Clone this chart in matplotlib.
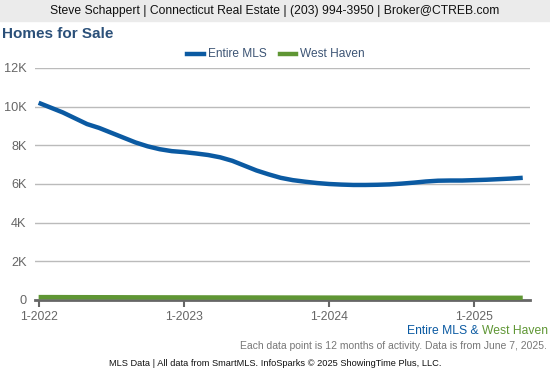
import matplotlib
matplotlib.use("Agg")
import matplotlib.pyplot as plt
import numpy as np

plt.rcParams['font.family'] = ['Liberation Sans', 'DejaVu Sans']

# monthly points, Jan 2022 .. May 2025 (12-month rolling)
entire_mls = [10200, 9950, 9700, 9400, 9100, 8900, 8650, 8400, 8150, 7950,
              7800, 7700, 7650, 7580, 7500, 7380, 7200, 6950, 6700, 6500,
              6320, 6200, 6120, 6050, 6000, 5970, 5950, 5950, 5960, 5980,
              6020, 6070, 6130, 6170, 6180, 6180, 6200, 6220, 6250, 6280, 6320]
west_haven = [150, 150, 148, 146, 145, 143, 142, 140, 138, 137,
              136, 135, 134, 133, 132, 131, 130, 130, 129, 128,
              127, 126, 125, 124, 123, 122, 121, 120, 120, 119,
              118, 118, 117, 117, 116, 116, 115, 115, 114, 114, 113]
tick_pos = [0, 12, 24, 36]
tick_labels = ["1-2022", "1-2023", "1-2024", "1-2025"]
y_ticks = [0, 2000, 4000, 6000, 8000, 10000, 12000]
y_labels = ["0", "2K", "4K", "6K", "8K", "10K", "12K"]

blue = "#0b5aa2"
green = "#5f9634"

fig = plt.figure(figsize=(5.5, 3.75), dpi=100)
ax = fig.add_axes([35 / 550, 1 - 300 / 375, 495 / 550, 232 / 375])

x = np.arange(len(entire_mls))
ax.plot(x, entire_mls, color=blue, lw=3.2, solid_capstyle="butt", zorder=3)
ax.plot(x, west_haven, color=green, lw=3.2, solid_capstyle="butt", zorder=3)

ax.set_xlim(-0.3, 40.6)
ax.set_ylim(0, 12000)
ax.set_yticks(y_ticks)
ax.set_yticklabels(y_labels)
ax.set_xticks(tick_pos)
ax.set_xticklabels(tick_labels)
ax.grid(axis="y", color="#bbbbbb", lw=1)
ax.set_axisbelow(True)
for s in ["top", "right", "left"]:
    ax.spines[s].set_visible(False)
ax.spines["bottom"].set_color("#666666")
ax.spines["bottom"].set_linewidth(2)
ax.tick_params(axis="y", length=0, labelsize=9.2, labelcolor="#666666", pad=6)
ax.tick_params(axis="x", length=5, width=1.5, color="#666666",
               labelsize=8.8, labelcolor="#666666", pad=3)

# header band
fig.patches.append(plt.Rectangle((0, 1 - 21 / 375), 1, 21 / 375,
                                 transform=fig.transFigure, color="#ebebeb", zorder=0))
fig.text(0.5, 1 - 11 / 375,
         "Steve Schappert | Connecticut Real Estate | (203) 994-3950 | Broker@CTREB.com",
         ha="center", va="center", fontsize=8.7, color="#111111")
fig.text(2 / 550, 1 - 34 / 375, "Homes for Sale", ha="left", va="center",
         fontsize=11, fontweight="bold", color="#2b5079")

# legend
ly = 1 - 54 / 375
fig.add_artist(plt.Line2D([187 / 550, 204 / 550], [ly, ly], color=blue, lw=3.2))
fig.text(208 / 550, ly, "Entire MLS", ha="left", va="center", fontsize=8.6, color="#3d5575")
fig.add_artist(plt.Line2D([280 / 550, 296 / 550], [ly, ly], color=green, lw=3.2))
fig.text(300 / 550, ly, "West Haven", ha="left", va="center", fontsize=8.6, color="#3d5575")

# footer texts
fy = 1 - 331 / 375
t1 = fig.text(548 / 550, fy, "West Haven", ha="right", va="center", fontsize=8.7, color=green)
fig.canvas.draw()
bb = t1.get_window_extent()
fig.text(bb.x0 / 550, fy, "Entire MLS & ", ha="right", va="center", fontsize=8.7, color=blue)
fig.text(547 / 550, 1 - 346 / 375,
         "Each data point is 12 months of activity. Data is from June 7, 2025.",
         ha="right", va="center", fontsize=7.5, color="#777777")
fig.text(0.5, 1 - 363 / 375,
         "MLS Data | All data from SmartMLS. InfoSparks \u00a9 2025 ShowingTime Plus, LLC.",
         ha="center", va="center", fontsize=6.7, color="#111111")

fig.savefig("out.png", dpi=100)
